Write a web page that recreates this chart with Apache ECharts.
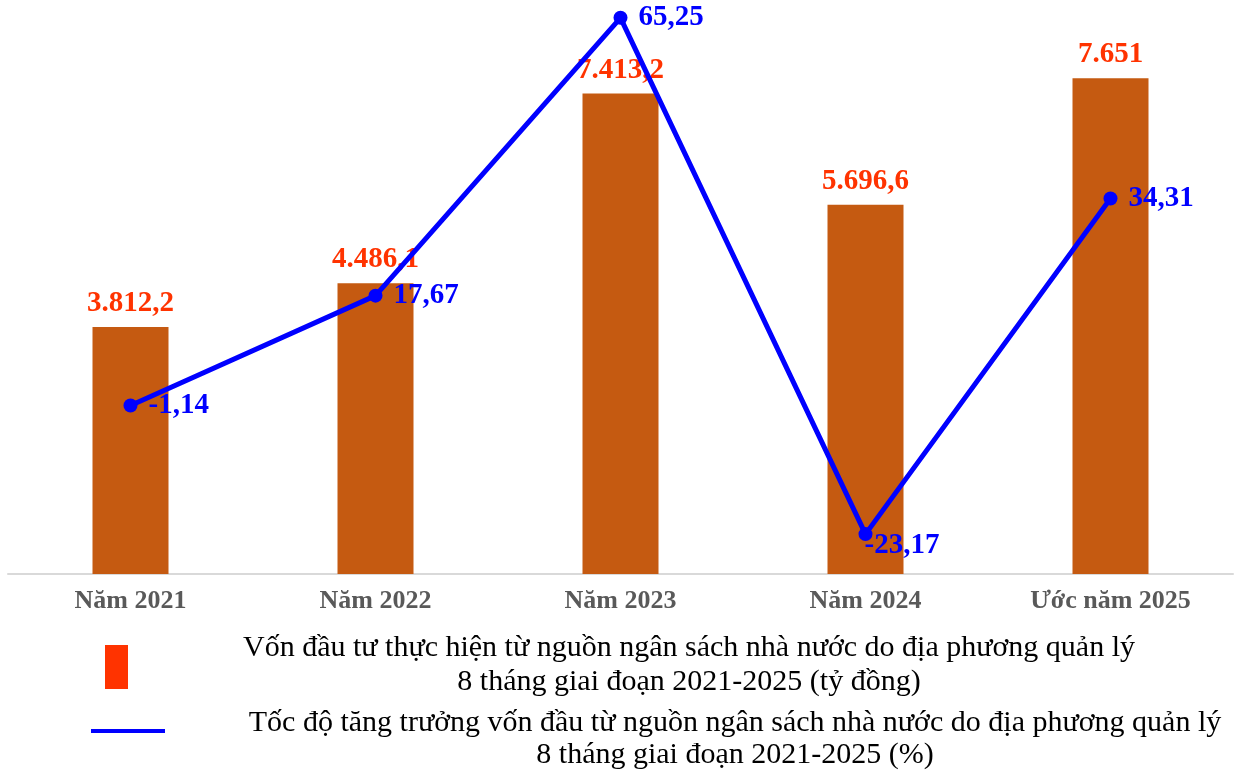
<!DOCTYPE html>
<html>
<head>
<meta charset="utf-8">
<script src="https://cdn.jsdelivr.net/npm/echarts@6/dist/echarts.min.js"></script>
<style>
  html, body { margin: 0; padding: 0; background: #ffffff; }
  #chart { width: 1238px; height: 773px; }
</style>
</head>
<body>
<div id="chart"></div>
<script>
// ---- Data ----
var categories = ['Năm 2021', 'Năm 2022', 'Năm 2023', 'Năm 2024', 'Ước năm 2025'];
var capitalValues = [3812.2, 4486.1, 7413.2, 5696.6, 7651];
var growthValues = [-1.14, 17.67, 65.25, -23.17, 34.31];
var capitalName = 'Vốn đầu tư thực hiện từ nguồn ngân sách nhà nước do địa phương quản lý\n8 tháng giai đoạn 2021-2025 (tỷ đồng)';
var growthName = 'Tốc độ tăng trưởng vốn đầu từ nguồn ngân sách nhà nước do địa phương quản lý\n8 tháng giai đoạn 2021-2025 (%)';

var SERIF = '"Liberation Serif", "Times New Roman", "DejaVu Serif", serif';

function fmtVN(v) {
  var parts = String(v).split('.');
  var intPart = parts[0];
  var neg = intPart.charAt(0) === '-';
  if (neg) intPart = intPart.slice(1);
  intPart = intPart.replace(/\B(?=(\d{3})+(?!\d))/g, '.');
  return (neg ? '-' : '') + intPart + (parts[1] ? ',' + parts[1] : '');
}

var chart = echarts.init(document.getElementById('chart'), null, { renderer: 'canvas' });

var capLines = capitalName.split('\n');
var groLines = growthName.split('\n');

function legendText(x, y, txt) {
  return {
    type: 'text', x: x, y: y,
    style: { text: txt, font: '30px ' + SERIF, fill: '#000000', align: 'center', verticalAlign: 'middle' }
  };
}

var option = {
  backgroundColor: '#ffffff',
  animation: false,
  grid: { left: 8, right: 5, top: 0, height: 574, containLabel: false },
  legend: [
    {
      left: 105, top: 645, padding: 0,
      itemWidth: 23, itemHeight: 44,
      icon: 'rect',
      selectedMode: false,
      formatter: function () { return ''; },
      data: [{ name: capitalName, itemStyle: { color: '#FF3300' } }]
    },
    {
      left: 91, top: 729, padding: 0,
      itemWidth: 74, itemHeight: 4,
      icon: 'rect',
      selectedMode: false,
      formatter: function () { return ''; },
      data: [{ name: growthName, itemStyle: { color: '#0000FF' } }]
    }
  ],
  xAxis: {
    type: 'category',
    data: categories,
    axisLine: { show: true, lineStyle: { color: '#D9D9D9', width: 2 } },
    axisTick: { show: false },
    axisLabel: {
      margin: 14,
      fontFamily: SERIF,
      fontSize: 26,
      fontWeight: 'bold',
      color: '#595959'
    },
    splitLine: { show: false }
  },
  yAxis: [
    { type: 'value', min: 0, max: 8858, show: false, splitLine: { show: false } },
    { type: 'value', min: -30, max: 68.3, show: false, splitLine: { show: false } }
  ],
  series: [
    {
      name: capitalName,
      type: 'bar',
      yAxisIndex: 0,
      barWidth: 76,
      itemStyle: { color: '#C55A11' },
      data: capitalValues,
      label: {
        show: true,
        position: 'top',
        distance: 9,
        fontFamily: SERIF,
        fontSize: 29,
        fontWeight: 'bold',
        color: '#FF3300',
        formatter: function (p) { return fmtVN(p.value); }
      },
      z: 2
    },
    {
      name: growthName,
      type: 'line',
      yAxisIndex: 1,
      symbol: 'circle',
      symbolSize: 14,
      lineStyle: { color: '#0000FF', width: 5 },
      itemStyle: { color: '#0000FF' },
      data: growthValues.map(function (v, i) {
        if (i === 3) {
          return { value: v, label: { offset: [-19, 11] } };
        }
        return v;
      }),
      label: {
        show: true,
        position: 'right',
        distance: 11,
        fontFamily: SERIF,
        fontSize: 29,
        fontWeight: 'bold',
        color: '#0000FF',
        formatter: function (p) { return fmtVN(p.value); }
      },
      z: 3
    }
  ],
  graphic: [
    legendText(689, 648, capLines[0]),
    legendText(689, 682, capLines[1]),
    legendText(735, 723, groLines[0]),
    legendText(735, 755, groLines[1])
  ]
};

chart.setOption(option);
</script>
</body>
</html>
